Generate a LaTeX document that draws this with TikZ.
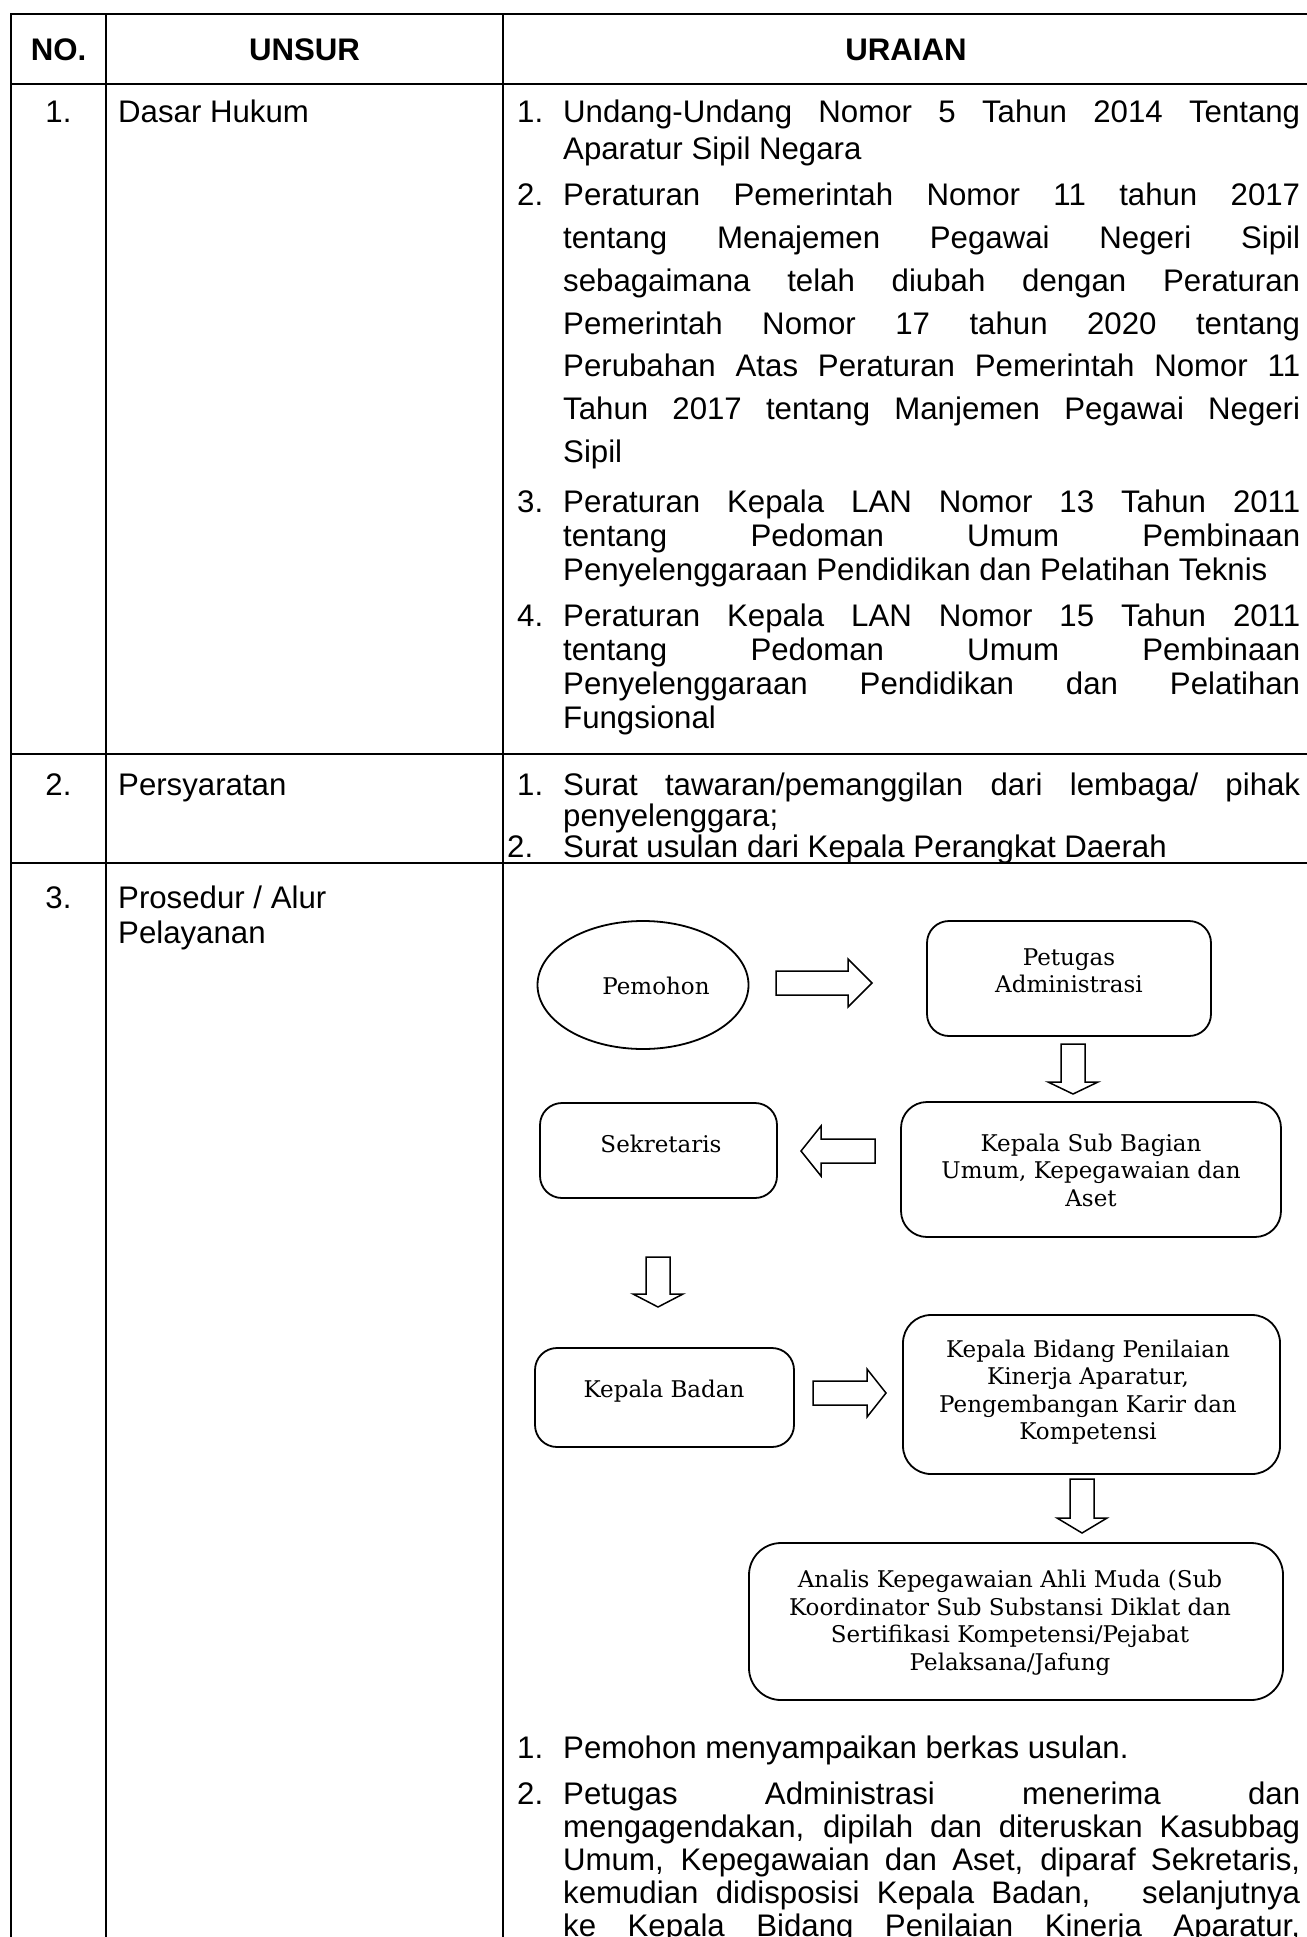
\documentclass[tikz,border=0pt]{standalone}
\usepackage{fontspec}
\setmainfont{Liberation Sans}
\newfontfamily\flowfont{DejaVu Serif}
\usetikzlibrary{shapes.geometric}

% one justified line of the URAIAN column
\newcommand\jline[1]{\makebox[737pt][s]{#1}}
% block arrows: tail point, centre line, total length, head length
\newcommand\arrowright[4]{\draw[blockarrow] (#1,#2-12) -- (#1+#3-#4,#2-12) -- (#1+#3-#4,#2-24) -- (#1+#3,#2) -- (#1+#3-#4,#2+24) -- (#1+#3-#4,#2+12) -- (#1,#2+12) -- cycle;}
\newcommand\arrowleft[4]{\draw[blockarrow] (#1,#2-12) -- (#1-#3+#4,#2-12) -- (#1-#3+#4,#2-25) -- (#1-#3,#2) -- (#1-#3+#4,#2+25) -- (#1-#3+#4,#2+12) -- (#1,#2+12) -- cycle;}
\newcommand\arrowdown[4]{\draw[blockarrow] (#1-12,#2) -- (#1-12,#2+#3-#4) -- (#1-25,#2+#3-#4) -- (#1,#2+#3) -- (#1+25,#2+#3-#4) -- (#1+12,#2+#3-#4) -- (#1+12,#2) -- cycle;}

\begin{document}
\begin{tikzpicture}[x=1pt,y=-1pt,
  rule/.style={line width=2.5pt, line cap=rect},
  cell/.style={inner sep=0pt, anchor=base west, font=\fontsize{31.2}{36}\selectfont},
  num/.style={inner sep=0pt, anchor=base west, font=\fontsize{31.2}{36}\selectfont},
  ctr/.style={inner sep=0pt, anchor=base, font=\fontsize{31.2}{36}\selectfont},
  head/.style={inner sep=0pt, anchor=base, font=\fontsize{31.2}{36}\selectfont\bfseries},
  box/.style={draw, line width=1.8pt, rounded corners=22pt, inner sep=0pt},
  flow/.style={inner sep=0pt, align=center, font=\flowfont\fontsize{23}{27.5}\selectfont},
  blockarrow/.style={draw, line width=1.5pt, fill=white, line join=miter}]

\useasboundingbox (0,0) rectangle (1306,1937);
\fill[white] (0,0) rectangle (1306,1937);

% ---------- table grid ----------
\draw[rule] (11,14) -- (1320,14);
\draw[rule] (11,84) -- (1320,84);
\draw[rule] (11,754) -- (1320,754);
\draw[rule] (11,863) -- (1320,863);
\draw[rule] (11,14) -- (11,1945);
\draw[rule] (106,14) -- (106,1945);
\draw[rule] (503,14) -- (503,1945);

% ---------- header ----------
\node[head] (hno) at (58.5,61) {NO.};
\node[head] (hunsur) at (304.5,61) {UNSUR};
\node[head] (huraian) at (906,61) {URAIAN};

% ---------- row 1: Dasar Hukum ----------
\node[ctr] (r1no) at (58.5,123) {1.};
\node[cell] (r1name) at (118,123) {Dasar Hukum};

\node[num] (a1n) at (517,123) {1.};
\node[cell] (a1a) at (563,123) {\jline{Undang-Undang Nomor 5 Tahun 2014 Tentang}};
\node[cell] (a1b) at (563,160) {Aparatur Sipil Negara};

\node[num] (a2n) at (517,205) {2.};
\node[cell] (a2a) at (563,205) {\jline{Peraturan Pemerintah Nomor 11 tahun 2017}};
\node[cell] (a2b) at (563,248) {\jline{tentang Menajemen Pegawai Negeri Sipil}};
\node[cell] (a2c) at (563,291) {\jline{sebagaimana telah diubah dengan Peraturan}};
\node[cell] (a2d) at (563,334) {\jline{Pemerintah Nomor 17 tahun 2020 tentang}};
\node[cell] (a2e) at (563,376) {\jline{Perubahan Atas Peraturan Pemerintah Nomor 11}};
\node[cell] (a2f) at (563,419) {\jline{Tahun 2017 tentang Manjemen Pegawai Negeri}};
\node[cell] (a2g) at (563,462) {Sipil};

\node[num] (a3n) at (517,512) {3.};
\node[cell] (a3a) at (563,512) {\jline{Peraturan Kepala LAN Nomor 13 Tahun 2011}};
\node[cell] (a3b) at (563,546) {\jline{tentang Pedoman Umum Pembinaan}};
\node[cell] (a3c) at (563,580) {Penyelenggaraan Pendidikan dan Pelatihan Teknis};

\node[num] (a4n) at (517,626) {4.};
\node[cell] (a4a) at (563,626) {\jline{Peraturan Kepala LAN Nomor 15 Tahun 2011}};
\node[cell] (a4b) at (563,660) {\jline{tentang Pedoman Umum Pembinaan}};
\node[cell] (a4c) at (563,694) {\jline{Penyelenggaraan Pendidikan dan Pelatihan}};
\node[cell] (a4d) at (563,728) {Fungsional};

% ---------- row 2: Persyaratan ----------
\node[ctr] (r2no) at (58.5,795) {2.};
\node[cell] (r2name) at (118,795) {Persyaratan};
\node[num] (b1n) at (517,795) {1.};
\node[cell] (b1a) at (563,795) {\jline{Surat tawaran/pemanggilan dari lembaga/ pihak}};
\node[cell] (b1b) at (563,826) {penyelenggara;};
\node[num] (b2n) at (507,857) {2.};
\node[cell] (b2a) at (563,857) {Surat usulan dari Kepala Perangkat Daerah};

% ---------- row 3: Prosedur ----------
\node[ctr] (r3no) at (58.5,908) {3.};
\node[cell] (r3name) at (118,908) {Prosedur / Alur};
\node[cell] (r3name2) at (118,943) {Pelayanan};

% flow chart
\node[draw, ellipse, line width=1.8pt, minimum width=211pt, minimum height=128pt, inner sep=0pt] (pemohon) at (643,985) {};
\node[flow] (tpemohon) at (656,986) {Pemohon};

\node[box, minimum width=284pt, minimum height=115pt] (petugas) at (1069,978.5) {};
\node[flow] (tpetugas) at (1069,971) {Petugas\\Administrasi};

\node[box, minimum width=237pt, minimum height=95pt] (sekretaris) at (658.5,1150.5) {};
\node[flow] (tsekretaris) at (661,1144) {Sekretaris};

\node[box, rounded corners=26pt, minimum width=380pt, minimum height=135pt] (ksb) at (1091,1169.5) {};
\node[flow] (tksb) at (1091,1170) {Kepala Sub Bagian\\Umum, Kepegawaian dan\\Aset};

\node[box, minimum width=259pt, minimum height=99pt] (kbadan) at (664.5,1397.5) {};
\node[flow] (tkbadan) at (664,1391) {Kepala Badan};

\node[box, rounded corners=28pt, minimum width=377pt, minimum height=159pt] (kbidang) at (1091.5,1394.5) {};
\node[flow] (tkbidang) at (1088,1392) {Kepala Bidang Penilaian\\Kinerja Aparatur,\\Pengembangan Karir dan\\Kompetensi};

\node[box, rounded corners=32pt, minimum width=534pt, minimum height=157pt] (analis) at (1016,1621.5) {};
\node[flow] (tanalis) at (1010,1623) {Analis Kepegawaian Ahli Muda (Sub\\Koordinator Sub Substansi Diklat dan\\Sertifikasi Kompetensi/Pejabat\\Pelaksana/Jafung};

% block arrows between the steps
\arrowright{776}{983}{96}{24}
\arrowdown{1073}{1044}{50}{12}
\arrowleft{875}{1151}{74}{20}
\arrowdown{658}{1257}{50}{13}
\arrowright{813}{1393}{73}{19}
\arrowdown{1082}{1479}{54}{15}

% description of the flow
\node[num] (c1n) at (517,1758) {1.};
\node[cell] (c1a) at (563,1758) {Pemohon menyampaikan berkas usulan.};
\node[num] (c2n) at (517,1804) {2.};
\node[cell] (c2a) at (563,1804) {\jline{Petugas Administrasi menerima dan}};
\node[cell] (c2b) at (563,1837) {\jline{mengagendakan, dipilah dan diteruskan Kasubbag}};
\node[cell] (c2c) at (563,1870) {\jline{Umum, Kepegawaian dan Aset, diparaf Sekretaris,}};
\node[cell] (c2d) at (563,1903) {\jline{kemudian didisposisi Kepala Badan,\ \ \ selanjutnya}};
\node[cell] (c2e) at (563,1936) {\jline{ke Kepala Bidang Penilaian Kinerja Aparatur,}};

\end{tikzpicture}
\end{document}
